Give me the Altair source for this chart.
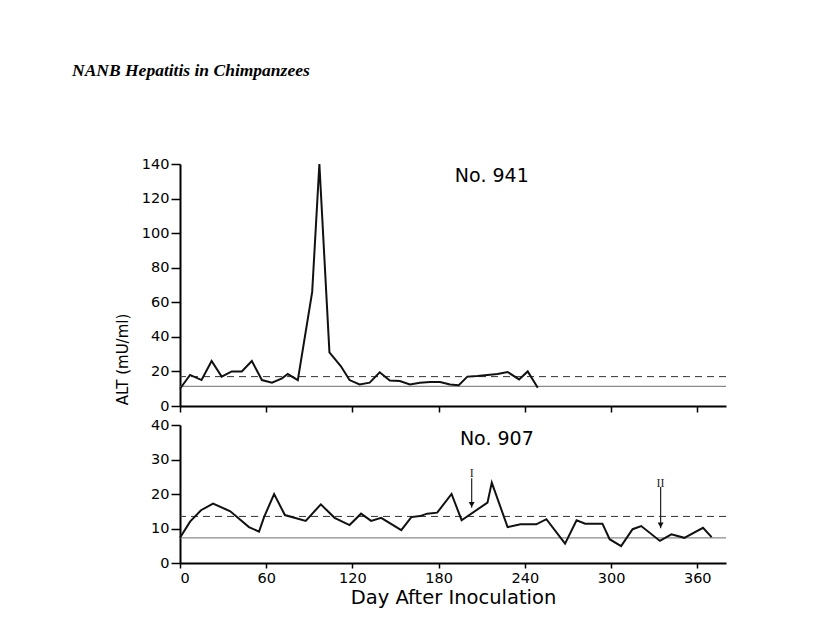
import altair as alt
import pandas as pd

# ---- data ----
top_days = [0, 7, 15, 22, 29, 36, 43, 50, 57, 64, 71, 75, 82, 92, 97, 104, 112, 118,
            125, 132, 139, 146, 153, 160, 167, 174, 181, 188, 194, 200, 207, 214, 221,
            228, 236, 242, 249]
top_alt = [10, 18, 15, 26, 17, 20, 20, 26, 15, 13.5, 16, 18.5, 15, 66, 140, 31, 23, 15,
           12.5, 13.5, 19.5, 14.8, 14.5, 12.5, 13.5, 13.9, 13.9, 12.5, 12, 17, 17.3, 18, 18.5,
           19.7, 15.4, 20, 10.6]

bot_days = [0, 7, 14.6, 23, 35, 48, 55, 58.5, 65.5, 73, 87.5, 98, 107.6, 118, 126, 133,
            140, 154, 161, 167, 172, 179, 189, 196, 214, 217, 228, 237, 248, 255, 268,
            276, 282, 294, 299, 307, 315, 321, 334, 342, 351, 364, 370]
bot_alt = [7.3, 12, 15.3, 17.2, 15, 10.4, 9.1, 13.3, 20, 13.9, 12.2, 17, 13.1, 11, 14.3, 12.2,
           13.1, 9.5, 13.3, 13.6, 14.3, 14.6, 20, 12.4, 17.5, 23.3, 10.4, 11.2, 11.2, 12.7, 5.6,
           12.4, 11.4, 11.4, 6.9, 4.9, 9.8, 10.7, 6.4, 8.3, 7.3, 10.2, 7.5]

top_upper = 17.0     # dashed reference level, No. 941
top_normal = 11.4    # solid reference level, No. 941
bot_upper = 13.5     # dashed reference level, No. 907
bot_normal = 7.3     # solid reference level, No. 907

arrow_labels = ["I", "II"]
arrow_days = [203, 334.5]
arrow_from = [24.6, 22.0]
arrow_to = [16.0, 10.1]
arrow_label_y = [26.0, 23.2]

panel_labels = ["No. 941", "No. 907"]
panel_label_days = [217, 220.5]
panel_label_y = [133, 36]

top_y_ticks = [0, 20, 40, 60, 80, 100, 120, 140]
bot_y_ticks = [0, 10, 20, 30, 40]
x_ticks = [0, 60, 120, 180, 240, 300, 360]

FONT = "DejaVu Sans"

top_df = pd.DataFrame({"day": top_days, "alt": top_alt})
bot_df = pd.DataFrame({"day": bot_days, "alt": bot_alt})
arrow_df = pd.DataFrame({"label": arrow_labels, "day": arrow_days, "y1": arrow_from,
                         "y2": arrow_to, "ly": arrow_label_y})
arrow_df["head"] = [v + 0.9 for v in arrow_to]

xscale = alt.Scale(domain=[0, 380], nice=False, zero=False)

axis_common = dict(domainColor="black", domainWidth=2, tickColor="black", tickWidth=1.5,
                   labelFont=FONT, labelFontSize=14.5, labelColor="black", grid=False,
                   labelOverlap=False, titleFont=FONT, titleColor="black",
                   titleFontWeight="normal")

# ---- top panel ----
top_xaxis = alt.Axis(values=x_ticks, labels=False, title=None, tickSize=6, **axis_common)
top_yaxis = alt.Axis(values=top_y_ticks, tickSize=9, labelPadding=2,
                     title="ALT (mU/ml)", titleFontSize=15, titleX=-50, titleY=195,
                     **axis_common)
top_yscale = alt.Scale(domain=[0, 140], nice=False)


def ty(field):
    return alt.Y(field, scale=top_yscale, axis=top_yaxis)


top_line = alt.Chart(top_df).mark_line(color="#111111", strokeWidth=2).encode(
    x=alt.X("day:Q", scale=xscale, axis=top_xaxis), y=ty("alt:Q"))
top_dash = alt.Chart(pd.DataFrame({"v": [top_upper]})).mark_rule(
    color="#333333", strokeWidth=1, strokeDash=[7, 5]).encode(y=ty("v:Q"))
top_solid = alt.Chart(pd.DataFrame({"v": [top_normal]})).mark_rule(
    color="#8a8a8a", strokeWidth=1.2).encode(y=ty("v:Q"))
top_lab = alt.Chart(pd.DataFrame({"t": [panel_labels[0]], "d": [panel_label_days[0]],
                                  "v": [panel_label_y[0]]})).mark_text(
    font=FONT, fontSize=19, color="black").encode(
    x=alt.X("d:Q", scale=xscale, axis=top_xaxis), y=ty("v:Q"), text="t:N")

top = alt.layer(top_solid, top_dash, top_line, top_lab).properties(width=546, height=242)

# ---- bottom panel ----
bot_xaxis = alt.Axis(values=x_ticks, tickSize=5, labelPadding=3,
                     title="Day After Inoculation", titleFontSize=19.5, titlePadding=4,
                     **axis_common)
bot_yaxis = alt.Axis(values=bot_y_ticks, tickSize=9, labelPadding=2, title=None,
                     **axis_common)
bot_yscale = alt.Scale(domain=[0, 40], nice=False)


def bx(field):
    return alt.X(field, scale=xscale, axis=bot_xaxis)


def by(field):
    return alt.Y(field, scale=bot_yscale, axis=bot_yaxis)


bot_line = alt.Chart(bot_df).mark_line(color="#111111", strokeWidth=2).encode(
    x=bx("day:Q"), y=by("alt:Q"))
bot_dash = alt.Chart(pd.DataFrame({"v": [bot_upper]})).mark_rule(
    color="#333333", strokeWidth=1, strokeDash=[7, 5]).encode(y=by("v:Q"))
bot_solid = alt.Chart(pd.DataFrame({"v": [bot_normal]})).mark_rule(
    color="#8a8a8a", strokeWidth=1.2).encode(y=by("v:Q"))
arrows = alt.Chart(arrow_df).mark_rule(color="#222222", strokeWidth=1.2).encode(
    x=bx("day:Q"), y=by("y1:Q"), y2="y2:Q")
heads = alt.Chart(arrow_df).mark_point(shape="triangle-down", filled=True, size=36,
                                       color="#111111", opacity=1).encode(
    x=bx("day:Q"), y=by("head:Q"))
arrow_text = alt.Chart(arrow_df).mark_text(font="Liberation Serif", fontSize=12,
                                           color="#222222").encode(
    x=bx("day:Q"), y=by("ly:Q"), text="label:N")
bot_lab = alt.Chart(pd.DataFrame({"t": [panel_labels[1]], "d": [panel_label_days[1]],
                                  "v": [panel_label_y[1]]})).mark_text(
    font=FONT, fontSize=19, color="black").encode(x=bx("d:Q"), y=by("v:Q"), text="t:N")

bottom = alt.layer(bot_solid, bot_dash, bot_line, arrows, heads, arrow_text, bot_lab).properties(
    width=546, height=138)

chart = alt.vconcat(top, bottom, spacing=19, bounds="flush").properties(
    title=alt.TitleParams("NANB Hepatitis in Chimpanzees", font="Liberation Serif",
                          fontSize=17.5, fontStyle="italic", fontWeight="bold", color="black",
                          anchor="start", dx=-43, offset=77),
    padding={"left": 72, "top": 61, "right": 5, "bottom": 5},
    background="white",
).configure_view(stroke=None)

chart.save("out.html", embed_options={"renderer": "svg", "actions": False})
